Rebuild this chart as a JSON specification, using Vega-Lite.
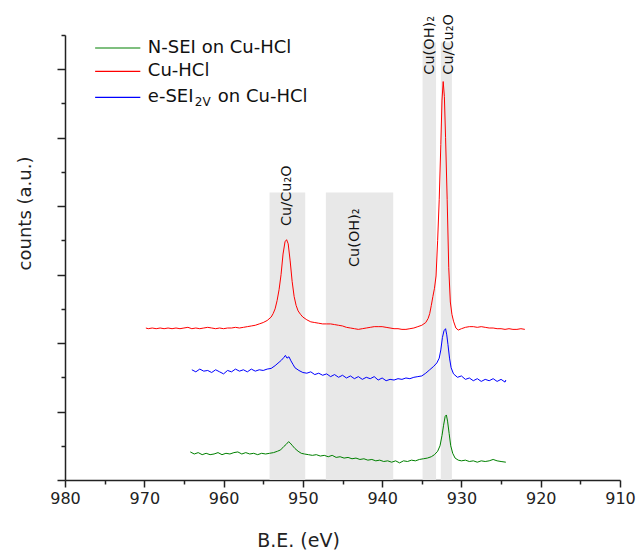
{
  "$schema": "https://vega.github.io/schema/vega-lite/v6.json",
  "autosize": {"type": "none"},
  "padding": {"left": 65, "top": 35, "right": 19, "bottom": 74},
  "width": 555,
  "height": 445,
  "background": "white",
  "config": {
    "font": "DejaVu Sans",
    "view": {"stroke": null},
    "axis": {
      "grid": false,
      "domainColor": "#222222",
      "domainWidth": 1.5,
      "tickColor": "#222222",
      "tickWidth": 1.5,
      "labelColor": "#222222",
      "titleColor": "#222222",
      "titleFontWeight": "normal",
      "labelFont": "DejaVu Sans",
      "titleFont": "DejaVu Sans"
    }
  },
  "resolve": {"axis": {"x": "independent", "y": "independent"}},
  "datasets": {
    "bands": [
      {"eV": 954.2, "eV_end": 949.7, "top": 4.2},
      {"eV": 947.1, "eV_end": 938.6, "top": 4.2},
      {"eV": 934.9, "eV_end": 933.2, "top": 6.39},
      {"eV": 932.6, "eV_end": 931.2, "top": 6.39}
    ],
    "bandLabels": [
      {"label": "Cu/Cu₂O", "eV": 952.0, "counts": 3.71},
      {"label": "Cu(OH)₂", "eV": 943.4, "counts": 3.11},
      {"label": "Cu(OH)₂", "eV": 934.0, "counts": 5.92},
      {"label": "Cu/Cu₂O", "eV": 931.55, "counts": 5.92}
    ],
    "nsei": [
      {"eV": 964.2, "counts": 0.41}, {"eV": 963.7, "counts": 0.38}, {"eV": 963.2, "counts": 0.40},
      {"eV": 962.7, "counts": 0.37}, {"eV": 962.2, "counts": 0.39}, {"eV": 961.7, "counts": 0.37},
      {"eV": 961.2, "counts": 0.38}, {"eV": 960.7, "counts": 0.40}, {"eV": 960.2, "counts": 0.37},
      {"eV": 959.7, "counts": 0.39}, {"eV": 959.2, "counts": 0.38}, {"eV": 958.7, "counts": 0.40},
      {"eV": 958.2, "counts": 0.41}, {"eV": 957.7, "counts": 0.38}, {"eV": 957.2, "counts": 0.40},
      {"eV": 956.7, "counts": 0.38}, {"eV": 956.2, "counts": 0.39}, {"eV": 955.7, "counts": 0.37},
      {"eV": 955.2, "counts": 0.39}, {"eV": 954.7, "counts": 0.38}, {"eV": 954.2, "counts": 0.39},
      {"eV": 953.7, "counts": 0.40}, {"eV": 953.2, "counts": 0.42}, {"eV": 952.8, "counts": 0.44},
      {"eV": 952.4, "counts": 0.49}, {"eV": 952.1, "counts": 0.52}, {"eV": 951.8, "counts": 0.56},
      {"eV": 951.6, "counts": 0.54}, {"eV": 951.3, "counts": 0.50}, {"eV": 951.0, "counts": 0.46},
      {"eV": 950.6, "counts": 0.42}, {"eV": 950.2, "counts": 0.39}, {"eV": 949.8, "counts": 0.38},
      {"eV": 949.3, "counts": 0.37}, {"eV": 948.8, "counts": 0.36}, {"eV": 948.3, "counts": 0.37},
      {"eV": 947.8, "counts": 0.35}, {"eV": 947.3, "counts": 0.36}, {"eV": 946.8, "counts": 0.34},
      {"eV": 946.3, "counts": 0.36}, {"eV": 945.8, "counts": 0.33}, {"eV": 945.3, "counts": 0.34},
      {"eV": 944.8, "counts": 0.32}, {"eV": 944.3, "counts": 0.33}, {"eV": 943.8, "counts": 0.31},
      {"eV": 943.3, "counts": 0.32}, {"eV": 942.8, "counts": 0.30}, {"eV": 942.3, "counts": 0.31},
      {"eV": 941.8, "counts": 0.29}, {"eV": 941.3, "counts": 0.30}, {"eV": 940.8, "counts": 0.28},
      {"eV": 940.3, "counts": 0.29}, {"eV": 939.8, "counts": 0.27}, {"eV": 939.3, "counts": 0.28},
      {"eV": 938.8, "counts": 0.26}, {"eV": 938.3, "counts": 0.28}, {"eV": 937.8, "counts": 0.25},
      {"eV": 937.3, "counts": 0.28}, {"eV": 936.8, "counts": 0.27}, {"eV": 936.3, "counts": 0.29},
      {"eV": 935.8, "counts": 0.28}, {"eV": 935.3, "counts": 0.30}, {"eV": 934.8, "counts": 0.31},
      {"eV": 934.3, "counts": 0.32}, {"eV": 933.8, "counts": 0.34}, {"eV": 933.4, "counts": 0.37},
      {"eV": 933.0, "counts": 0.42}, {"eV": 932.7, "counts": 0.50}, {"eV": 932.45, "counts": 0.65},
      {"eV": 932.25, "counts": 0.80}, {"eV": 932.05, "counts": 0.93}, {"eV": 931.9, "counts": 0.95},
      {"eV": 931.75, "counts": 0.86}, {"eV": 931.55, "counts": 0.68}, {"eV": 931.35, "counts": 0.50},
      {"eV": 931.1, "counts": 0.39}, {"eV": 930.8, "counts": 0.32}, {"eV": 930.4, "counts": 0.29},
      {"eV": 930.0, "counts": 0.28}, {"eV": 929.5, "counts": 0.29}, {"eV": 929.0, "counts": 0.27},
      {"eV": 928.5, "counts": 0.28}, {"eV": 928.0, "counts": 0.26}, {"eV": 927.5, "counts": 0.28},
      {"eV": 927.0, "counts": 0.27}, {"eV": 926.5, "counts": 0.28}, {"eV": 926.0, "counts": 0.30},
      {"eV": 925.5, "counts": 0.28}, {"eV": 925.0, "counts": 0.27}, {"eV": 924.4, "counts": 0.26}
    ],
    "cuhcl": [
      {"eV": 969.8, "counts": 2.22}, {"eV": 969.5, "counts": 2.21}, {"eV": 969.0, "counts": 2.22},
      {"eV": 968.5, "counts": 2.21}, {"eV": 968.0, "counts": 2.22}, {"eV": 967.5, "counts": 2.21},
      {"eV": 967.0, "counts": 2.22}, {"eV": 966.5, "counts": 2.21}, {"eV": 966.0, "counts": 2.22},
      {"eV": 965.5, "counts": 2.21}, {"eV": 965.0, "counts": 2.22}, {"eV": 964.5, "counts": 2.23},
      {"eV": 964.0, "counts": 2.21}, {"eV": 963.5, "counts": 2.22}, {"eV": 963.0, "counts": 2.21},
      {"eV": 962.5, "counts": 2.22}, {"eV": 962.0, "counts": 2.23}, {"eV": 961.5, "counts": 2.22},
      {"eV": 961.0, "counts": 2.21}, {"eV": 960.5, "counts": 2.22}, {"eV": 960.0, "counts": 2.21},
      {"eV": 959.5, "counts": 2.22}, {"eV": 959.0, "counts": 2.22}, {"eV": 958.5, "counts": 2.23},
      {"eV": 958.0, "counts": 2.22}, {"eV": 957.5, "counts": 2.23}, {"eV": 957.0, "counts": 2.24},
      {"eV": 956.5, "counts": 2.25}, {"eV": 956.0, "counts": 2.26}, {"eV": 955.5, "counts": 2.28},
      {"eV": 955.0, "counts": 2.30}, {"eV": 954.5, "counts": 2.33}, {"eV": 954.0, "counts": 2.38},
      {"eV": 953.75, "counts": 2.43}, {"eV": 953.5, "counts": 2.50}, {"eV": 953.25, "counts": 2.62},
      {"eV": 953.0, "counts": 2.78}, {"eV": 952.75, "counts": 3.00}, {"eV": 952.5, "counts": 3.30},
      {"eV": 952.25, "counts": 3.48}, {"eV": 952.05, "counts": 3.51}, {"eV": 951.85, "counts": 3.45},
      {"eV": 951.6, "counts": 3.20}, {"eV": 951.35, "counts": 2.90}, {"eV": 951.1, "counts": 2.68},
      {"eV": 950.85, "counts": 2.55}, {"eV": 950.6, "counts": 2.47}, {"eV": 950.3, "counts": 2.42},
      {"eV": 950.0, "counts": 2.38}, {"eV": 949.5, "counts": 2.34}, {"eV": 949.0, "counts": 2.31},
      {"eV": 948.5, "counts": 2.30}, {"eV": 948.0, "counts": 2.29}, {"eV": 947.5, "counts": 2.28},
      {"eV": 947.0, "counts": 2.28}, {"eV": 946.5, "counts": 2.28}, {"eV": 946.0, "counts": 2.27},
      {"eV": 945.5, "counts": 2.26}, {"eV": 945.0, "counts": 2.25}, {"eV": 944.5, "counts": 2.23},
      {"eV": 944.0, "counts": 2.22}, {"eV": 943.5, "counts": 2.21}, {"eV": 943.0, "counts": 2.20},
      {"eV": 942.5, "counts": 2.21}, {"eV": 942.0, "counts": 2.22}, {"eV": 941.5, "counts": 2.23},
      {"eV": 941.0, "counts": 2.24}, {"eV": 940.5, "counts": 2.24}, {"eV": 940.0, "counts": 2.24},
      {"eV": 939.5, "counts": 2.23}, {"eV": 939.0, "counts": 2.22}, {"eV": 938.5, "counts": 2.21},
      {"eV": 938.0, "counts": 2.21}, {"eV": 937.5, "counts": 2.20}, {"eV": 937.0, "counts": 2.20},
      {"eV": 936.5, "counts": 2.21}, {"eV": 936.0, "counts": 2.22}, {"eV": 935.5, "counts": 2.24},
      {"eV": 935.0, "counts": 2.26}, {"eV": 934.5, "counts": 2.30}, {"eV": 934.2, "counts": 2.36},
      {"eV": 934.0, "counts": 2.43}, {"eV": 933.8, "counts": 2.55}, {"eV": 933.6, "counts": 2.68},
      {"eV": 933.4, "counts": 2.80}, {"eV": 933.2, "counts": 2.98}, {"eV": 933.0, "counts": 3.50},
      {"eV": 932.8, "counts": 4.10}, {"eV": 932.6, "counts": 4.90}, {"eV": 932.45, "counts": 5.55},
      {"eV": 932.3, "counts": 5.82}, {"eV": 932.15, "counts": 5.60}, {"eV": 932.0, "counts": 5.00},
      {"eV": 931.8, "counts": 4.10}, {"eV": 931.6, "counts": 3.10}, {"eV": 931.4, "counts": 2.60},
      {"eV": 931.2, "counts": 2.42}, {"eV": 931.0, "counts": 2.32}, {"eV": 930.7, "counts": 2.22},
      {"eV": 930.4, "counts": 2.19}, {"eV": 930.0, "counts": 2.21}, {"eV": 929.5, "counts": 2.23},
      {"eV": 929.0, "counts": 2.24}, {"eV": 928.5, "counts": 2.24}, {"eV": 928.0, "counts": 2.23},
      {"eV": 927.5, "counts": 2.24}, {"eV": 927.0, "counts": 2.23}, {"eV": 926.5, "counts": 2.22},
      {"eV": 926.0, "counts": 2.22}, {"eV": 925.5, "counts": 2.21}, {"eV": 925.0, "counts": 2.21},
      {"eV": 924.5, "counts": 2.20}, {"eV": 924.0, "counts": 2.21}, {"eV": 923.5, "counts": 2.20},
      {"eV": 923.0, "counts": 2.20}, {"eV": 922.5, "counts": 2.21}, {"eV": 922.0, "counts": 2.20}
    ],
    "esei": [
      {"eV": 964.0, "counts": 1.61}, {"eV": 963.5, "counts": 1.58}, {"eV": 963.0, "counts": 1.62},
      {"eV": 962.5, "counts": 1.59}, {"eV": 962.0, "counts": 1.60}, {"eV": 961.5, "counts": 1.57},
      {"eV": 961.0, "counts": 1.61}, {"eV": 960.5, "counts": 1.58}, {"eV": 960.0, "counts": 1.55},
      {"eV": 959.5, "counts": 1.60}, {"eV": 959.0, "counts": 1.58}, {"eV": 958.5, "counts": 1.62},
      {"eV": 958.0, "counts": 1.59}, {"eV": 957.5, "counts": 1.61}, {"eV": 957.0, "counts": 1.58},
      {"eV": 956.5, "counts": 1.62}, {"eV": 956.0, "counts": 1.59}, {"eV": 955.5, "counts": 1.61},
      {"eV": 955.0, "counts": 1.60}, {"eV": 954.5, "counts": 1.62}, {"eV": 954.0, "counts": 1.63},
      {"eV": 953.5, "counts": 1.67}, {"eV": 953.0, "counts": 1.72}, {"eV": 952.7, "counts": 1.75},
      {"eV": 952.4, "counts": 1.79}, {"eV": 952.2, "counts": 1.82}, {"eV": 952.0, "counts": 1.78},
      {"eV": 951.75, "counts": 1.80}, {"eV": 951.5, "counts": 1.74}, {"eV": 951.25, "counts": 1.69},
      {"eV": 951.0, "counts": 1.64}, {"eV": 950.5, "counts": 1.60}, {"eV": 950.0, "counts": 1.57},
      {"eV": 949.5, "counts": 1.56}, {"eV": 949.0, "counts": 1.58}, {"eV": 948.5, "counts": 1.54},
      {"eV": 948.0, "counts": 1.56}, {"eV": 947.5, "counts": 1.53}, {"eV": 947.0, "counts": 1.55},
      {"eV": 946.5, "counts": 1.51}, {"eV": 946.0, "counts": 1.54}, {"eV": 945.5, "counts": 1.50},
      {"eV": 945.0, "counts": 1.53}, {"eV": 944.5, "counts": 1.49}, {"eV": 944.0, "counts": 1.52},
      {"eV": 943.5, "counts": 1.48}, {"eV": 943.0, "counts": 1.51}, {"eV": 942.5, "counts": 1.47},
      {"eV": 942.0, "counts": 1.50}, {"eV": 941.5, "counts": 1.48}, {"eV": 941.0, "counts": 1.51},
      {"eV": 940.5, "counts": 1.46}, {"eV": 940.0, "counts": 1.49}, {"eV": 939.5, "counts": 1.45},
      {"eV": 939.0, "counts": 1.47}, {"eV": 938.5, "counts": 1.46}, {"eV": 938.0, "counts": 1.48},
      {"eV": 937.5, "counts": 1.47}, {"eV": 937.0, "counts": 1.49}, {"eV": 936.5, "counts": 1.48},
      {"eV": 936.0, "counts": 1.50}, {"eV": 935.5, "counts": 1.51}, {"eV": 935.0, "counts": 1.52},
      {"eV": 934.5, "counts": 1.56}, {"eV": 934.0, "counts": 1.61}, {"eV": 933.5, "counts": 1.66},
      {"eV": 933.1, "counts": 1.71}, {"eV": 932.8, "counts": 1.78}, {"eV": 932.6, "counts": 1.90},
      {"eV": 932.4, "counts": 2.08}, {"eV": 932.2, "counts": 2.18}, {"eV": 932.0, "counts": 2.21},
      {"eV": 931.85, "counts": 2.12}, {"eV": 931.7, "counts": 1.98}, {"eV": 931.5, "counts": 1.78},
      {"eV": 931.3, "counts": 1.64}, {"eV": 931.0, "counts": 1.55}, {"eV": 930.5, "counts": 1.50},
      {"eV": 930.0, "counts": 1.52}, {"eV": 929.5, "counts": 1.47}, {"eV": 929.0, "counts": 1.49},
      {"eV": 928.5, "counts": 1.45}, {"eV": 928.0, "counts": 1.48}, {"eV": 927.5, "counts": 1.44},
      {"eV": 927.0, "counts": 1.47}, {"eV": 926.5, "counts": 1.45}, {"eV": 926.0, "counts": 1.48},
      {"eV": 925.5, "counts": 1.44}, {"eV": 925.0, "counts": 1.47}, {"eV": 924.5, "counts": 1.43},
      {"eV": 924.4, "counts": 1.46}
    ],
    "legendLines": [
      {"label": "N-SEI on Cu-HCl", "eV": 976.2, "eV_end": 970.5, "counts": 6.31},
      {"label": "Cu-HCl", "eV": 976.2, "eV_end": 970.5, "counts": 5.97},
      {"label": "e-SEI2V on Cu-HCl", "eV": 976.2, "eV_end": 970.5, "counts": 5.59}
    ],
    "legendText": [
      {"text": "N-SEI on Cu-HCl", "part": "main", "eV": 969.55, "counts": 6.31},
      {"text": "Cu-HCl", "part": "main", "eV": 969.55, "counts": 5.97},
      {"text": "e-SEI", "part": "main", "eV": 969.55, "counts": 5.59},
      {"text": "2V", "part": "sub", "eV": 969.55, "counts": 5.59},
      {"text": "on Cu-HCl", "part": "tail", "eV": 969.55, "counts": 5.59}
    ]
  },
  "layer": [
    {
      "data": {"name": "bands"},
      "mark": {"type": "rect", "color": "#e8e8e8"},
      "encoding": {
        "x": {
          "field": "eV", "type": "quantitative",
          "scale": {"domain": [910, 980], "reverse": true, "nice": false, "zero": false},
          "axis": {
            "orient": "bottom",
            "title": "B.E. (eV)",
            "titleFontSize": 19,
            "titleX": 233,
            "titleY": 60,
            "titleAlign": "center",
            "titleBaseline": "middle",
            "values": [910, 920, 930, 940, 950, 960, 970, 980],
            "labelFontSize": 16,
            "labelPadding": 3,
            "labelFlush": false,
            "labelOverlap": false,
            "tickSize": 7
          }
        },
        "x2": {"field": "eV_end"},
        "y": {
          "field": "top", "type": "quantitative",
          "scale": {"domain": [0, 6.5], "nice": false, "zero": false},
          "axis": {
            "orient": "left",
            "title": "counts (a.u.)",
            "titleFontSize": 18,
            "titleAngle": 270,
            "titleX": -40,
            "titleY": 178,
            "titleAlign": "center",
            "titleBaseline": "middle",
            "values": [0, 1, 2, 3, 4, 5, 6],
            "labels": false,
            "tickSize": 8
          }
        },
        "y2": {"datum": 0}
      }
    },
    {
      "data": {"name": "bandLabels"},
      "mark": {"type": "text", "angle": 270, "align": "left", "baseline": "middle", "fontSize": 14.5, "color": "#111111"},
      "encoding": {
        "x": {
          "field": "eV", "type": "quantitative",
          "scale": {"domain": [910, 980], "reverse": true, "nice": false, "zero": false},
          "axis": {"orient": "bottom", "title": null, "labels": false, "domain": false, "tickSize": 4,
                   "values": [915, 925, 935, 945, 955, 965, 975]}
        },
        "y": {
          "field": "counts", "type": "quantitative",
          "scale": {"domain": [0, 6.5], "nice": false, "zero": false},
          "axis": {"orient": "left", "title": null, "labels": false, "domain": false, "tickSize": 4,
                   "values": [0.5, 1.5, 2.5, 3.5, 4.5, 5.5, 6.5]}
        },
        "text": {"field": "label"}
      }
    },
    {
      "data": {"name": "nsei"},
      "mark": {"type": "line", "color": "#008000", "strokeWidth": 1},
      "encoding": {
        "x": {"field": "eV", "type": "quantitative", "scale": {"domain": [910, 980], "reverse": true, "nice": false, "zero": false}, "axis": null},
        "y": {"field": "counts", "type": "quantitative", "scale": {"domain": [0, 6.5], "nice": false, "zero": false}, "axis": null}
      }
    },
    {
      "data": {"name": "esei"},
      "mark": {"type": "line", "color": "#0000ff", "strokeWidth": 1},
      "encoding": {
        "x": {"field": "eV", "type": "quantitative", "scale": {"domain": [910, 980], "reverse": true, "nice": false, "zero": false}, "axis": null},
        "y": {"field": "counts", "type": "quantitative", "scale": {"domain": [0, 6.5], "nice": false, "zero": false}, "axis": null}
      }
    },
    {
      "data": {"name": "cuhcl"},
      "mark": {"type": "line", "color": "#ff0000", "strokeWidth": 1},
      "encoding": {
        "x": {"field": "eV", "type": "quantitative", "scale": {"domain": [910, 980], "reverse": true, "nice": false, "zero": false}, "axis": null},
        "y": {"field": "counts", "type": "quantitative", "scale": {"domain": [0, 6.5], "nice": false, "zero": false}, "axis": null}
      }
    },
    {
      "data": {"name": "legendLines"},
      "mark": {"type": "rule", "strokeWidth": 1.2},
      "encoding": {
        "x": {"field": "eV", "type": "quantitative", "scale": {"domain": [910, 980], "reverse": true, "nice": false, "zero": false}, "axis": null},
        "x2": {"field": "eV_end"},
        "y": {"field": "counts", "type": "quantitative", "scale": {"domain": [0, 6.5], "nice": false, "zero": false}, "axis": null},
        "color": {
          "field": "label", "type": "nominal",
          "scale": {"domain": ["N-SEI on Cu-HCl", "Cu-HCl", "e-SEI2V on Cu-HCl"], "range": ["#008000", "#ff0000", "#0000ff"]},
          "legend": null
        }
      }
    },
    {
      "data": {"name": "legendText"},
      "transform": [{"filter": "datum.part === 'main'"}],
      "mark": {"type": "text", "align": "left", "baseline": "middle", "fontSize": 18, "color": "#111111"},
      "encoding": {
        "x": {"field": "eV", "type": "quantitative", "scale": {"domain": [910, 980], "reverse": true, "nice": false, "zero": false}, "axis": null},
        "y": {"field": "counts", "type": "quantitative", "scale": {"domain": [0, 6.5], "nice": false, "zero": false}, "axis": null},
        "text": {"field": "text"}
      }
    },
    {
      "data": {"name": "legendText"},
      "transform": [{"filter": "datum.part === 'sub'"}],
      "mark": {"type": "text", "align": "left", "baseline": "middle", "fontSize": 12, "dx": 47, "dy": 5, "color": "#111111"},
      "encoding": {
        "x": {"field": "eV", "type": "quantitative", "scale": {"domain": [910, 980], "reverse": true, "nice": false, "zero": false}, "axis": null},
        "y": {"field": "counts", "type": "quantitative", "scale": {"domain": [0, 6.5], "nice": false, "zero": false}, "axis": null},
        "text": {"field": "text"}
      }
    },
    {
      "data": {"name": "legendText"},
      "transform": [{"filter": "datum.part === 'tail'"}],
      "mark": {"type": "text", "align": "left", "baseline": "middle", "fontSize": 18, "dx": 70, "color": "#111111"},
      "encoding": {
        "x": {"field": "eV", "type": "quantitative", "scale": {"domain": [910, 980], "reverse": true, "nice": false, "zero": false}, "axis": null},
        "y": {"field": "counts", "type": "quantitative", "scale": {"domain": [0, 6.5], "nice": false, "zero": false}, "axis": null},
        "text": {"field": "text"}
      }
    }
  ]
}
